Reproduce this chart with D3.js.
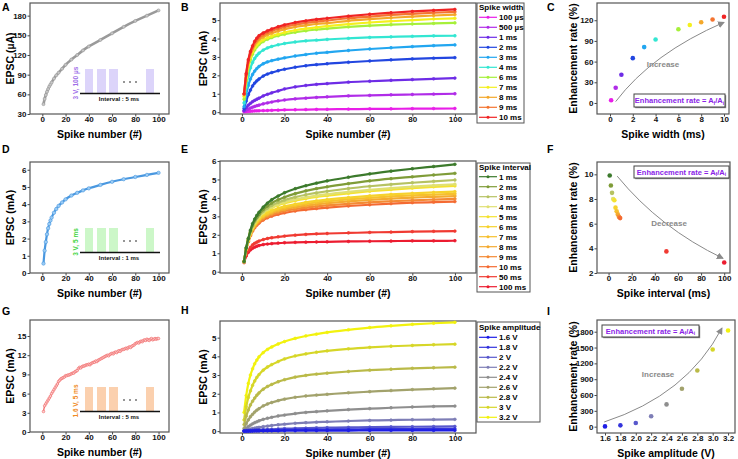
<!DOCTYPE html>
<html><head><meta charset="utf-8">
<script src="https://cdn.jsdelivr.net/npm/d3@7"></script>
<style>body{margin:0;background:#fff} svg{display:block} text{font-family:"Liberation Sans",Arial,sans-serif;font-weight:bold}</style>
</head><body><svg id="c" width="738" height="459"></svg>
<script>
// ---------------- DATA ----------------
const spikeN = [1,2,3,4,5,6,7,8,10,12,14,17,20,25,30,35,40,50,60,70,80,90,100];
// Panel A (µA)
const epscA = [45,53,59,64,68,72,75,78,84,89,93,99,105,113,120,127,133,143,153,163,172,180,188];
// Panel B (mA) spike width series
const widthLabels = ["100 µs","500 µs","1 ms","2 ms","3 ms","4 ms","6 ms","7 ms","8 ms","9 ms","10 ms"];
const widthColors = ["#e81ee8","#b02ce8","#6e2ce6","#2246e0","#22a6f0","#33e6d2","#a6f03a","#f4f01e","#f4a82a","#f47430","#f02424"];
const bW100us = [0.02,0.03,0.04,0.05,0.06,0.065,0.07,0.075,0.085,0.09,0.1,0.11,0.12,0.13,0.14,0.15,0.155,0.165,0.175,0.18,0.19,0.195,0.2];
const bW500us = [0.05,0.11,0.17,0.22,0.27,0.31,0.35,0.38,0.45,0.5,0.55,0.61,0.66,0.72,0.76,0.8,0.83,0.88,0.91,0.94,0.96,0.98,1.0];
const bW1ms = [0.1,0.25,0.38,0.48,0.57,0.64,0.7,0.76,0.88,0.97,1.05,1.15,1.26,1.37,1.45,1.51,1.55,1.63,1.68,1.73,1.77,1.81,1.85];
const bW2ms = [0.2,0.6,0.95,1.2,1.42,1.58,1.7,1.8,1.96,2.07,2.15,2.25,2.33,2.44,2.52,2.58,2.63,2.71,2.78,2.84,2.89,2.93,2.96];
const bW3ms = [0.3,0.95,1.45,1.8,2.05,2.23,2.37,2.48,2.63,2.73,2.8,2.88,2.95,3.05,3.13,3.2,3.25,3.35,3.43,3.5,3.56,3.61,3.65];
const bW4ms = [0.5,1.35,1.98,2.4,2.7,2.92,3.08,3.2,3.37,3.49,3.57,3.66,3.73,3.81,3.87,3.91,3.95,4.01,4.06,4.09,4.12,4.14,4.15];
const bW6ms = [0.7,1.7,2.4,2.85,3.15,3.38,3.55,3.67,3.84,3.96,4.05,4.15,4.23,4.34,4.42,4.49,4.54,4.63,4.7,4.75,4.79,4.82,4.85];
const bW7ms = [0.85,1.85,2.55,2.98,3.27,3.5,3.66,3.78,3.93,4.04,4.13,4.24,4.33,4.45,4.54,4.61,4.67,4.78,4.87,4.94,5.0,5.06,5.1];
const bW8ms = [0.95,1.99,2.7,3.13,3.42,3.66,3.82,3.94,4.08,4.2,4.29,4.41,4.5,4.63,4.71,4.79,4.84,4.96,5.05,5.13,5.19,5.25,5.3];
const bW9ms = [0.98,2.05,2.78,3.22,3.52,3.76,3.92,4.05,4.2,4.32,4.41,4.53,4.63,4.76,4.85,4.92,4.98,5.1,5.19,5.28,5.34,5.4,5.45];
const bW10ms = [1.0,2.1,2.85,3.3,3.6,3.85,4.02,4.15,4.3,4.42,4.52,4.64,4.74,4.87,4.96,5.04,5.1,5.22,5.32,5.4,5.47,5.53,5.58];
// Panel C
const widthMs = [0.1,0.5,1,2,3,4,6,7,8,9,10];
const rateWidth = [4,22,41,65,81,92,107,113,117,121,125];
// Panel D (mA)
const epscD = [0.55,1.3,1.8,2.25,2.6,2.85,3.05,3.22,3.5,3.72,3.9,4.1,4.28,4.5,4.66,4.8,4.92,5.12,5.3,5.45,5.58,5.7,5.82];
// Panel E (mA) spike interval series
const intervalLabels = ["1 ms","2 ms","3 ms","4 ms","5 ms","6 ms","7 ms","8 ms","9 ms","10 ms","50 ms","100 ms"];
const intervalColors = ["#3c7a2c","#7f9c38","#b6c262","#e0e072","#f4e230","#f6d22c","#f6c02e","#f4aa30","#f48a34","#f46a32","#f03a32","#ec1c30"];
const eI1ms = [0.55,1.3,1.8,2.25,2.6,2.85,3.05,3.22,3.5,3.72,3.9,4.1,4.28,4.5,4.66,4.8,4.92,5.12,5.3,5.45,5.58,5.7,5.82];
const eI2ms = [0.55,1.28,1.78,2.2,2.52,2.76,2.95,3.1,3.37,3.56,3.72,3.9,4.04,4.23,4.38,4.5,4.6,4.77,4.92,5.04,5.14,5.24,5.33];
const eI3ms = [0.55,1.26,1.75,2.15,2.46,2.7,2.88,3.03,3.27,3.45,3.59,3.75,3.88,4.04,4.17,4.27,4.36,4.51,4.63,4.73,4.82,4.9,4.97];
const eI4ms = [0.55,1.25,1.73,2.12,2.42,2.65,2.83,2.97,3.2,3.37,3.5,3.65,3.77,3.92,4.03,4.12,4.2,4.33,4.44,4.53,4.61,4.68,4.74];
const eI5ms = [0.55,1.24,1.72,2.1,2.4,2.62,2.8,2.94,3.16,3.32,3.45,3.6,3.71,3.85,3.96,4.05,4.12,4.25,4.36,4.45,4.53,4.6,4.65];
const eI6ms = [0.55,1.23,1.7,2.07,2.35,2.56,2.73,2.86,3.06,3.2,3.31,3.44,3.54,3.66,3.76,3.84,3.91,4.02,4.11,4.19,4.25,4.3,4.34];
const eI7ms = [0.55,1.22,1.68,2.04,2.31,2.52,2.68,2.81,3.0,3.13,3.24,3.36,3.46,3.58,3.67,3.75,3.81,3.92,4.0,4.08,4.14,4.18,4.22];
const eI8ms = [0.55,1.21,1.66,2.01,2.28,2.48,2.64,2.76,2.94,3.07,3.17,3.29,3.38,3.49,3.58,3.65,3.71,3.81,3.89,3.96,4.02,4.06,4.1];
const eI9ms = [0.55,1.2,1.64,1.98,2.24,2.43,2.58,2.7,2.87,2.99,3.09,3.2,3.29,3.39,3.47,3.54,3.59,3.68,3.76,3.82,3.87,3.91,3.95];
const eI10ms = [0.55,1.19,1.62,1.95,2.2,2.38,2.52,2.63,2.8,2.92,3.01,3.11,3.19,3.29,3.36,3.42,3.47,3.56,3.63,3.69,3.74,3.77,3.8];
const eI50ms = [0.5,0.9,1.15,1.32,1.45,1.54,1.6,1.66,1.74,1.8,1.84,1.89,1.93,1.98,2.02,2.05,2.07,2.1,2.13,2.15,2.17,2.19,2.2];
const eI100ms = [0.5,0.85,1.05,1.18,1.27,1.33,1.38,1.42,1.47,1.5,1.52,1.55,1.57,1.59,1.6,1.61,1.62,1.64,1.65,1.66,1.67,1.67,1.68];
// Panel F
const intervalMs = [1,2,3,4,5,6,7,8,9,10,50,100];
const rateInterval = [9.9,9.1,8.5,8.0,7.9,7.3,7.0,6.75,6.55,6.45,3.75,2.85];
// Panel G (mA), spikes 1..100
const epscG = [3.2,4.1,4.4,4.7,5.0,5.3,5.6,6.0,6.3,6.6,
 6.9,7.2,7.5,7.9,8.1,8.3,8.4,8.5,8.6,8.8,
 8.8,8.9,8.9,9.0,9.1,9.2,9.2,9.4,9.5,9.6,
 9.9,10.1,10.0,10.2,10.3,10.3,10.4,10.5,10.5,10.6,
 10.5,10.7,10.8,10.9,10.9,11.1,11.0,11.2,11.3,11.4,
 11.5,11.6,11.7,11.8,11.9,12.0,11.9,12.1,12.2,12.3,
 12.2,12.4,12.5,12.4,12.6,12.7,12.6,12.8,12.9,12.9,
 13.0,13.1,13.0,13.2,13.3,13.2,13.4,13.5,13.6,13.8,
 13.9,14.0,13.9,14.1,14.2,14.1,14.3,14.4,14.3,14.5,
 14.4,14.3,14.5,14.6,14.4,14.5,14.6,14.5,14.6,14.6];
// Panel H (mA) spike amplitude series
const ampLabels = ["1.6 V","1.8 V","2 V","2.2 V","2.4 V","2.6 V","2.8 V","3 V","3.2 V"];
const ampColors = ["#1e1ee6","#3434dc","#5858cc","#7e7eb6","#8e8e8e","#a2a26c","#baba48","#d6d628","#f2f20e"];
const hA16 = [0,0,0,0.005,0.005,0.01,0.01,0.01,0.012,0.015,0.015,0.018,0.02,0.022,0.025,0.027,0.029,0.032,0.035,0.037,0.039,0.04,0.04];
const hA18 = [0.005,0.01,0.015,0.02,0.025,0.03,0.035,0.04,0.045,0.05,0.055,0.06,0.065,0.072,0.078,0.083,0.088,0.096,0.103,0.108,0.113,0.117,0.12];
const hA20 = [0.01,0.02,0.03,0.04,0.05,0.06,0.07,0.075,0.085,0.095,0.1,0.115,0.13,0.145,0.16,0.175,0.185,0.2,0.215,0.225,0.235,0.245,0.25];
const hA22 = [0.02,0.05,0.08,0.11,0.14,0.16,0.18,0.2,0.24,0.27,0.3,0.34,0.37,0.42,0.45,0.48,0.5,0.54,0.57,0.59,0.61,0.62,0.63];
const hA24 = [0.05,0.15,0.24,0.32,0.39,0.45,0.5,0.55,0.63,0.69,0.74,0.81,0.86,0.94,1.0,1.04,1.08,1.15,1.2,1.25,1.29,1.32,1.34];
const hA26 = [0.15,0.4,0.6,0.77,0.9,1.02,1.12,1.2,1.35,1.45,1.53,1.63,1.71,1.81,1.88,1.93,1.97,2.05,2.11,2.17,2.22,2.26,2.3];
const hA28 = [0.35,0.8,1.13,1.4,1.6,1.77,1.92,2.04,2.24,2.39,2.5,2.64,2.75,2.89,2.98,3.05,3.1,3.19,3.26,3.31,3.36,3.39,3.42];
const hA30 = [0.6,1.3,1.8,2.15,2.45,2.68,2.87,3.02,3.26,3.43,3.56,3.72,3.86,4.02,4.13,4.22,4.29,4.4,4.48,4.54,4.58,4.62,4.65];
const hA32 = [1.0,1.9,2.55,3.0,3.33,3.6,3.8,3.97,4.2,4.37,4.5,4.66,4.79,4.96,5.09,5.19,5.28,5.42,5.54,5.63,5.71,5.77,5.82];
// Panel I
const ampV = [1.6,1.8,2.0,2.2,2.4,2.6,2.8,3.0,3.2];
const rateAmp = [5,25,70,197,422,718,1066,1462,1822];
// Annotation anchors (data units)
const arrowC = [[0.5,2],[3.7,72],[10,117]];
const arrowF = [[7.5,9.85],[44.6,5.62],[98.9,3.19]];
const arrowI = [[1.59,89],[2.665,600],[3.12,1869]];

// ---------------- DRAW ----------------
const FONT = '"Liberation Sans",Arial,sans-serif';
const svg = d3.select("#c");
const defs = svg.append("defs");
defs.append("marker").attr("id","arr").attr("markerUnits","userSpaceOnUse")
  .attr("markerWidth",7).attr("markerHeight",7).attr("refX",6).attr("refY",3.5).attr("orient","auto")
  .append("path").attr("d","M0,0 L7,3.5 L0,7 Z").attr("fill","#8a8a8a");

function makePanel(p){
  const x = d3.scaleLinear().domain(p.xd).range([p.x0,p.x1]);
  const y = d3.scaleLinear().domain(p.yd).range([p.y1,p.y0]);
  const g = svg.append("g");
  const ax = g.append("g").attr("transform",`translate(0,${p.y1})`)
    .call(d3.axisBottom(x).tickValues(p.xt).tickSize(2.5).tickPadding(0).tickFormat(p.xf||d3.format("d")));
  const ay = g.append("g").attr("transform",`translate(${p.x0},0)`)
    .call(d3.axisLeft(y).tickValues(p.yt).tickSize(2.5).tickPadding(1).tickFormat(p.yf||d3.format("d")));
  [ax,ay].forEach(a=>{a.select(".domain").remove();
    a.selectAll("text").attr("font-size",8).attr("font-weight","bold").attr("fill","#111").attr("font-family",FONT);
    a.selectAll("line").attr("stroke","#444");});
  g.append("rect").attr("x",p.x0).attr("y",p.y0).attr("width",p.x1-p.x0).attr("height",p.y1-p.y0)
    .attr("fill","none").attr("stroke","#555").attr("stroke-width",1.2);
  g.append("text").attr("x",(p.x0+p.x1)/2).attr("y",p.y1+23.5).attr("text-anchor","middle").attr("font-size",10.5).text(p.xl);
  g.append("text").attr("transform",`translate(${p.ylx},${(p.y0+p.y1)/2}) rotate(-90)`).attr("text-anchor","middle")
    .attr("dy","0.35em").attr("font-size",10.5).text(p.yl);
  g.append("text").attr("x",p.lx).attr("y",p.ly).attr("font-size",10.5).text(p.letter);
  return {x,y,g};
}
const lineGen = (P)=>d3.line().x(d=>P.x(d[0])).y(d=>P.y(d[1])).curve(d3.curveMonotoneX);
const zipN = (vals,ns)=>vals.map((v,i)=>[ns[i],v]);

function drawSeries(P, vals, ns, color, w, r, fill){
  const pts = zipN(vals, ns);
  P.g.append("path").datum(pts).attr("d",lineGen(P)).attr("fill","none").attr("stroke",color).attr("stroke-width",w);
  P.g.selectAll(null).data(pts).enter().append("circle").attr("cx",d=>P.x(d[0])).attr("cy",d=>P.y(d[1]))
    .attr("r",r).attr("fill",fill||color).attr("stroke",color).attr("stroke-width",0.6);
}
function legend(x0,y0,x1,y1,title,titleY,rowY0,labels,colors){
  const g = svg.append("g");
  g.append("rect").attr("x",x0).attr("y",y0).attr("width",x1-x0).attr("height",y1-y0).attr("fill","#fff").attr("stroke","#555").attr("stroke-width",1);
  g.append("text").attr("x",x0+2).attr("y",titleY).attr("font-size",8).text(title);
  labels.forEach((l,i)=>{
    const yy = rowY0 + i*10;
    g.append("line").attr("x1",x0+2).attr("x2",x0+20).attr("y1",yy).attr("y2",yy).attr("stroke",colors[i]).attr("stroke-width",1.2);
    g.append("circle").attr("cx",x0+11).attr("cy",yy).attr("r",1.5).attr("fill",colors[i]);
    g.append("text").attr("x",x0+22).attr("y",yy).attr("dy","0.35em").attr("font-size",8).text(l);
  });
}
function formulaBox(x0,y0,x1,y1){
  svg.append("rect").attr("x",x0+1.2).attr("y",y0+1.2).attr("width",x1-x0).attr("height",y1-y0).attr("fill","#888");
  svg.append("rect").attr("x",x0).attr("y",y0).attr("width",x1-x0).attr("height",y1-y0).attr("fill","#fff").attr("stroke","#444").attr("stroke-width",1);
  const t = svg.append("text").attr("x",(x0+x1)/2).attr("y",(y0+y1)/2+2.6).attr("text-anchor","middle").attr("font-size",7.5).attr("fill","#8a22e8");
  t.append("tspan").text("Enhancement rate = A");
  t.append("tspan").attr("font-size",5).attr("dy",1.8).text("f");
  t.append("tspan").attr("dy",-1.8).text("/A");
  t.append("tspan").attr("font-size",5).attr("dy",1.8).text("i");
}
function arrow(P, pts){
  const [a,c,b] = pts;
  P.g.append("path").attr("d",`M${P.x(a[0])},${P.y(a[1])} Q${P.x(c[0])},${P.y(c[1])} ${P.x(b[0])},${P.y(b[1])}`)
    .attr("fill","none").attr("stroke","#8a8a8a").attr("stroke-width",1).attr("marker-end","url(#arr)");
}
function annot(P, xv, yv, txt){
  P.g.append("text").attr("x",P.x(xv)).attr("y",P.y(yv)).attr("dy","0.35em").attr("text-anchor","middle")
    .attr("font-size",8).attr("fill","#8a8a8a").text(txt);
}
function pulseInset(x0, yb, barColor, txtColor, label, interval){
  const g = svg.append("g");
  const base = yb - 20.5;
  [[55,63],[67,76],[79,88],[116,124]].forEach(([a,b])=>{
    g.append("rect").attr("x",x0+a).attr("y",yb-45).attr("width",b-a).attr("height",45-21).attr("fill",barColor);
  });
  g.append("line").attr("x1",x0+50).attr("x2",x0+130).attr("y1",base).attr("y2",base).attr("stroke","#111").attr("stroke-width",1.3);
  [94,100,106].forEach(d=>g.append("circle").attr("cx",x0+d).attr("cy",yb-32).attr("r",0.8).attr("fill","#111"));
  g.append("text").attr("transform",`translate(${x0+46},${yb-31}) rotate(-90)`).attr("text-anchor","middle").attr("dy","0.35em")
    .attr("font-size",6.5).attr("fill",txtColor).text(label);
  g.append("text").attr("x",x0+89).attr("y",yb-13).attr("text-anchor","middle").attr("font-size",6).attr("fill","#111").text(interval);
}

const nTicks = [0,20,40,60,80,100];
// A
const PA = makePanel({x0:30,x1:169,y0:3,y1:114,xd:[-10.6,109],yd:[30,199.3],xt:nTicks,yt:[30,60,90,120,150,180],
  xl:"Spike number (#)",yl:"EPSC (µA)",ylx:10,letter:"A",lx:2,ly:11});
pulseInset(30,114,"#dcd4fa","#a070e8","3 V, 100 µs","Interval : 5 ms");
drawSeries(PA, epscA, spikeN, "#9a9a9a", 2.6, 1.5, "#c8c8c8");
// B
const PB = makePanel({x0:220,x1:476,y0:3,y1:114,xd:[-10.3,109.9],yd:[-0.1,5.93],xt:nTicks,yt:[0,1,2,3,4,5],
  xl:"Spike number (#)",yl:"EPSC (mA)",ylx:203,letter:"B",lx:181,ly:11});
const widthSeries = [bW100us,bW500us,bW1ms,bW2ms,bW3ms,bW4ms,bW6ms,bW7ms,bW8ms,bW9ms,bW10ms];
widthSeries.forEach((s,i)=>drawSeries(PB, s, spikeN, widthColors[i], 2.2, 1.4));
legend(477,3,524,123,"Spike width",9.5,17.3,widthLabels,widthColors);
// C
const PC = makePanel({x0:597,x1:729,y0:3,y1:114,xd:[-1.14,10.44],yd:[-16,145],xt:[0,2,4,6,8,10],yt:[0,30,60,90,120],
  xl:"Spike width (ms)",yl:"Enhancement rate (%)",ylx:573,letter:"C",lx:547,ly:11});
arrow(PC, arrowC);
annot(PC, 4.65, 56.6, "Increase");
PC.g.selectAll(null).data(widthMs).enter().append("circle").attr("cx",d=>PC.x(d)).attr("cy",(d,i)=>PC.y(rateWidth[i]))
  .attr("r",2.3).attr("fill",(d,i)=>widthColors[i]);
formulaBox(634,94,725,107);
// D
const PD = makePanel({x0:30,x1:169,y0:162,y1:273,xd:[-10.6,109],yd:[0,6.45],xt:nTicks,yt:[0,1,2,3,4,5,6],
  xl:"Spike number (#)",yl:"EPSC (mA)",ylx:10,letter:"D",lx:2,ly:153});
pulseInset(30,273,"#ccf7c8","#3ed43e","3 V, 5 ms","Interval : 1 ms");
drawSeries(PD, epscD, spikeN, "#4a98e0", 2.2, 1.7, "#9cccf4");
// E
const PE = makePanel({x0:220,x1:476,y0:161,y1:273,xd:[-10.3,109.9],yd:[-0.07,6.0],xt:nTicks,yt:[0,1,2,3,4,5,6],
  xl:"Spike number (#)",yl:"EPSC (mA)",ylx:203,letter:"E",lx:181,ly:153});
const intervalSeries = [eI1ms,eI2ms,eI3ms,eI4ms,eI5ms,eI6ms,eI7ms,eI8ms,eI9ms,eI10ms,eI50ms,eI100ms];
intervalSeries.slice().reverse().forEach((s,j)=>{const i=intervalSeries.length-1-j; drawSeries(PE, s, spikeN, intervalColors[i], 2.2, 1.4);});
legend(477,163,530,292,"Spike interval",169.5,176.7,intervalLabels,intervalColors);
// F
const PF = makePanel({x0:597,x1:730,y0:162,y1:273,xd:[-10,105],yd:[2,11],xt:nTicks,yt:[2,4,6,8,10],
  xl:"Spike interval (ms)",yl:"Enhancement rate (%)",ylx:573,letter:"F",lx:547,ly:153});
arrow(PF, arrowF);
annot(PF, 52.3, 6.03, "Decrease");
PF.g.selectAll(null).data(intervalMs).enter().append("circle").attr("cx",d=>PF.x(d)).attr("cy",(d,i)=>PF.y(rateInterval[i]))
  .attr("r",2.3).attr("fill",(d,i)=>intervalColors[i]);
formulaBox(634,166,729,178);
// G
const PG = makePanel({x0:30,x1:169,y0:320,y1:432,xd:[-10.6,109],yd:[0,17.5],xt:nTicks,yt:[0,3,6,9,12,15],
  xl:"Spike number (#)",yl:"EPSC (mA)",ylx:10,letter:"G",lx:2,ly:315});
pulseInset(30,432,"#fbd0ae","#f08a24","1.6 V, 5 ms","Interval : 5 ms");
drawSeries(PG, epscG, d3.range(1,101), "#f06060", 1.2, 1.3, "#fbd0d0");
// H
const PH = makePanel({x0:220,x1:476,y0:321,y1:433,xd:[-10.3,109.9],yd:[-0.1,5.89],xt:nTicks,yt:[0,1,2,3,4,5],
  xl:"Spike number (#)",yl:"EPSC (mA)",ylx:203,letter:"H",lx:181,ly:314});
const ampSeries = [hA16,hA18,hA20,hA22,hA24,hA26,hA28,hA30,hA32];
ampSeries.slice().reverse().forEach((s,j)=>{const i=ampSeries.length-1-j; drawSeries(PH, s, spikeN, ampColors[i], 2.2, 1.4);});
legend(477,322,540,422,"Spike amplitude",330,337.3,ampLabels,ampColors);
// I
const PI = makePanel({x0:597,x1:735,y0:320,y1:433,xd:[1.496,3.29],yd:[-120,2022],xt:ampV,yt:[0,300,600,900,1200,1500,1800],
  xf:d3.format(".1f"),xl:"Spike amplitude (V)",yl:"Enhancement rate (%)",ylx:573,letter:"I",lx:547,ly:315});
arrow(PI, arrowI);
annot(PI, 2.29, 998, "Increase");
PI.g.selectAll(null).data(ampV).enter().append("circle").attr("cx",d=>PI.x(d)).attr("cy",(d,i)=>PI.y(rateAmp[i]))
  .attr("r",2.3).attr("fill",(d,i)=>ampColors[i]);
formulaBox(602,325,699,337);
</script></body></html>
